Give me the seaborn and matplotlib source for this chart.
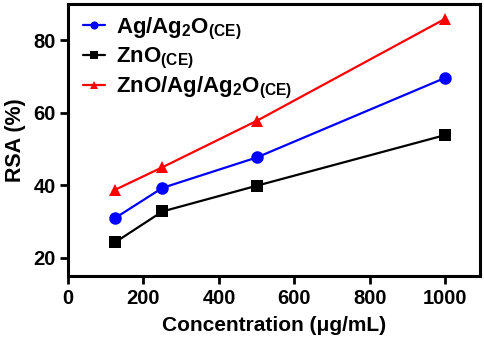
import matplotlib
matplotlib.use("Agg")
import matplotlib.pyplot as plt
import seaborn as sns
import pandas as pd

conc = [125, 250, 500, 1000]
ag_ag2o = [31.0, 39.3, 47.7, 69.7]
zno = [24.3, 32.8, 39.9, 53.9]
zno_ag_ag2o = [38.8, 45.0, 57.8, 86.0]

labels = [r"Ag/Ag$_{2}$O$_{(CE)}$", r"ZnO$_{(CE)}$", r"ZnO/Ag/Ag$_{2}$O$_{(CE)}$"]
series = [ag_ag2o, zno, zno_ag_ag2o]
colors = ["#0000ff", "#000000", "#ff0000"]
markers = ["o", "s", "^"]

sns.set_style("ticks")
plt.rcParams["font.family"] = ["Liberation Sans", "DejaVu Sans"]
plt.rcParams["font.weight"] = "bold"
plt.rcParams["mathtext.fontset"] = "custom"
plt.rcParams["mathtext.rm"] = "Liberation Sans:bold"
plt.rcParams["mathtext.it"] = "Liberation Sans:bold"
plt.rcParams["mathtext.bf"] = "Liberation Sans:bold"
plt.rcParams["mathtext.default"] = "bf"
for k in ["text.color", "axes.labelcolor", "xtick.color", "ytick.color", "axes.edgecolor"]:
    plt.rcParams[k] = "black"

rows = []
for lab, vals in zip(labels, series):
    for c, v in zip(conc, vals):
        rows.append({"Concentration": c, "RSA": v, "Sample": lab})
df = pd.DataFrame(rows)

fig = plt.figure(figsize=(4.84, 3.47), dpi=100)
ax = fig.add_axes([0.1405, 0.2046, 0.8515, 0.7834])

sns.lineplot(data=df, x="Concentration", y="RSA", hue="Sample", style="Sample",
             hue_order=labels, style_order=labels,
             palette=colors, markers=markers, dashes=False,
             markersize=9, linewidth=1.6, markeredgewidth=0, ax=ax)

ax.set_xlim(0, 1092)
ax.set_ylim(15, 90)
ax.set_xticks([0, 200, 400, 600, 800, 1000])
ax.set_yticks([20, 40, 60, 80])
for s in ax.spines.values():
    s.set_linewidth(2.2)
    s.set_color("black")
ax.tick_params(axis="both", width=2.0, length=6, labelsize=14.5, direction="out", pad=3,
               colors="black")
for t in ax.get_xticklabels() + ax.get_yticklabels():
    t.set_fontweight("bold")
ax.set_xlabel("Concentration (μg/mL)", fontsize=15, fontweight="bold", labelpad=6)
ax.set_ylabel("RSA (%)", fontsize=15.5, fontweight="bold", labelpad=5)

h, l = ax.get_legend_handles_labels()
leg = ax.legend(h, l, loc="upper left", frameon=False, fontsize=16,
                handlelength=1.0, handletextpad=0.5, labelspacing=0.18,
                markerscale=0.65, borderaxespad=0.0, bbox_to_anchor=(0.015, 0.99))
for t in leg.get_texts():
    t.set_fontweight("bold")
    t.set_color("black")

fig.savefig("out.png", dpi=100)
